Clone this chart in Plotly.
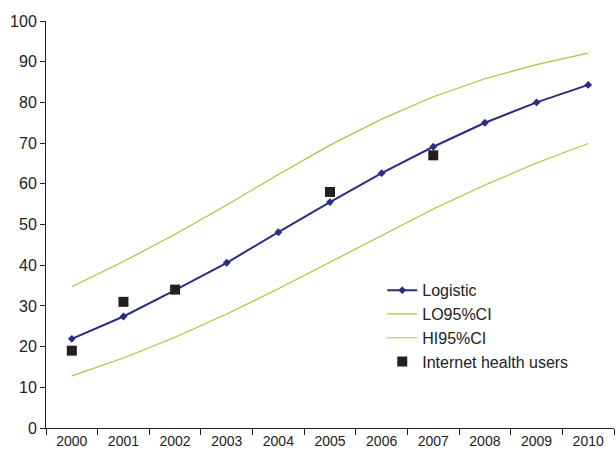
import plotly.graph_objects as go

years = ["2000", "2001", "2002", "2003", "2004", "2005", "2006", "2007", "2008", "2009", "2010"]
logistic = [21.9, 27.4, 33.9, 40.6, 48.1, 55.5, 62.6, 69.1, 75.0, 80.0, 84.3]
lo95 = [12.8, 17.2, 22.3, 28.0, 34.2, 40.8, 47.3, 53.8, 59.7, 65.1, 69.9]
hi95 = [34.7, 40.9, 47.6, 54.8, 62.3, 69.5, 75.9, 81.4, 85.8, 89.3, 92.1]
users_years = ["2000", "2001", "2002", "2005", "2007"]
users = [19, 31, 34, 58, 67]

navy = "#2b2c85"
green = "#9ccc3c"

fig = go.Figure()
fig.add_trace(go.Scatter(x=years, y=logistic, name="Logistic", mode="lines+markers",
                         line=dict(color=navy, width=2),
                         marker=dict(symbol="diamond", size=6, color=navy)))
fig.add_trace(go.Scatter(x=years, y=lo95, name="LO95%CI", mode="lines",
                         line=dict(color=green, width=1.2)))
fig.add_trace(go.Scatter(x=years, y=hi95, name="HI95%CI", mode="lines",
                         line=dict(color=green, width=1.2)))
fig.add_trace(go.Scatter(x=users_years, y=users, name="Internet health users", mode="markers",
                         marker=dict(symbol="square", size=10, color="#231f20")))

fig.update_layout(
    width=616, height=453,
    margin=dict(l=46, r=2, t=21, b=25, autoexpand=False),
    paper_bgcolor="white", plot_bgcolor="white",
    font=dict(family="Liberation Sans, Arial, sans-serif", size=15, color="#222"),
    showlegend=True,
    legend=dict(x=0.592, y=0.25, xanchor="left", yanchor="middle",
                font=dict(size=16), itemwidth=30, tracegroupgap=0,
                bgcolor="rgba(0,0,0,0)"),
    xaxis=dict(type="category", categoryorder="array", categoryarray=years,
               range=[-0.5, 10.5], tickson="boundaries", ticks="outside", ticklen=6,
               showline=True, linecolor="#222", linewidth=1, tickcolor="#222",
               showgrid=False, zeroline=False, tickfont=dict(size=14), automargin=False),
    yaxis=dict(range=[0, 100], dtick=10, ticks="outside", ticklen=5,
               showline=True, linecolor="#222", linewidth=1, tickcolor="#222",
               showgrid=False, zeroline=False, tickfont=dict(size=16), automargin=False),
)

fig.write_html("out.html", config={"displayModeBar": False},
               post_script="document.body.style.margin='0';document.body.style.overflow='hidden';")
